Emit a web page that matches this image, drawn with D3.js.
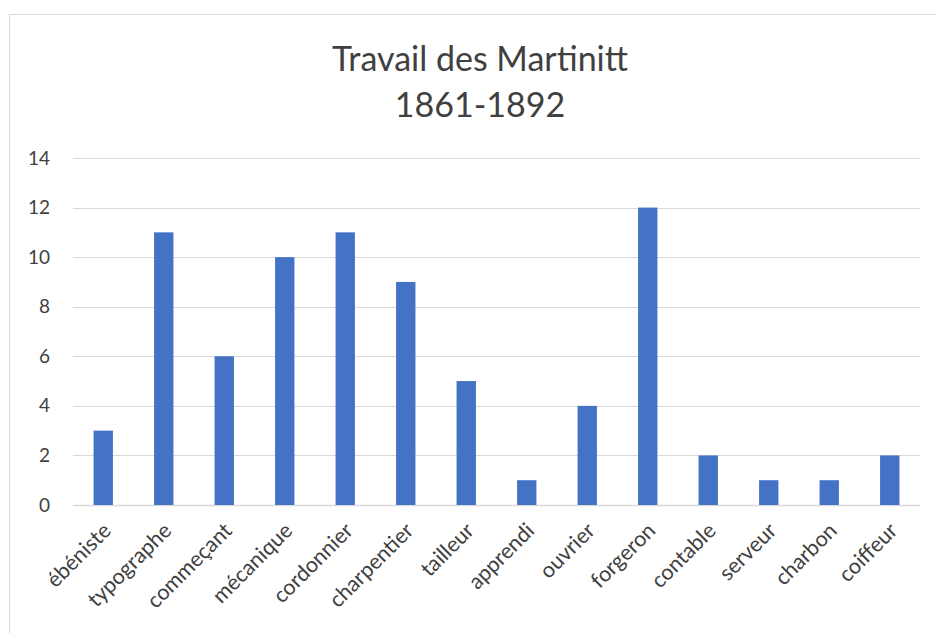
<!DOCTYPE html>
<html>
<head>
<meta charset="utf-8">
<script src="https://cdn.jsdelivr.net/npm/d3@7"></script>
<style>
body { margin: 0; background: #fff; }
text { font-family: Lato, "Open Sans", sans-serif; fill: #404040; }
</style>
</head>
<body>
<script>
//chart data
var jobs = ["ébéniste", "typographe", "commeçant", "mécanique", "cordonnier", "charpentier",
    "tailleur", "apprendi", "ouvrier", "forgeron", "contable", "serveur", "charbon", "coiffeur"];
var counts = [3, 11, 6, 10, 11, 9, 5, 1, 4, 12, 2, 1, 1, 2];
var yTicks = [0, 2, 4, 6, 8, 10, 12, 14];

var w = 936, h = 633;

var svg = d3.select("body")
    .append("svg")
    .attr("width", w)
    .attr("height", h);

//chart frame
svg.append("rect")
    .attr("x", 9.5)
    .attr("y", 14.5)
    .attr("width", 960)
    .attr("height", 700)
    .style("fill", "#fff")
    .style("stroke", "#d9d9d9");

var x = d3.scaleBand()
    .domain(jobs)
    .range([73, 920])
    .paddingInner(0.68)
    .paddingOuter(0.34);

var y = d3.scaleLinear()
    .domain([0, 14])
    .range([505, 158]);

//gridlines
svg.selectAll(".grid")
    .data(yTicks)
    .enter()
    .append("line")
    .attr("class", "grid")
    .attr("x1", 73)
    .attr("x2", 920)
    .attr("y1", function(d){ return Math.round(y(d)) + 0.5; })
    .attr("y2", function(d){ return Math.round(y(d)) + 0.5; })
    .style("stroke", "#d9d9d9")
    .style("stroke-width", function(d){ return d == 0 ? 1.5 : 1; });

//y axis labels
var yAxis = d3.axisLeft(y)
    .tickValues(yTicks)
    .tickSize(0)
    .tickPadding(0);

var axisY = svg.append("g")
    .attr("transform", "translate(50,0)")
    .call(yAxis);
axisY.select(".domain").remove();
axisY.selectAll("text")
    .style("font-size", "19px")
    .style("fill", "#404040");

//bars
svg.selectAll(".bar")
    .data(counts)
    .enter()
    .append("rect")
    .attr("class", "bar")
    .attr("x", function(d, i){ return x(jobs[i]); })
    .attr("width", x.bandwidth())
    .attr("y", function(d){ return y(d); })
    .attr("height", function(d){ return y(0) - y(d); })
    .style("fill", "#4472c4");

//category labels, rotated
var xAxis = d3.axisBottom(x).tickSize(0).tickPadding(0);
var axisX = svg.append("g")
    .attr("transform", "translate(0,505)")
    .call(xAxis);
axisX.select(".domain").remove();
axisX.selectAll("text")
    .style("font-size", "21.5px")
    .style("fill", "#404040")
    .attr("text-anchor", "end")
    .attr("dy", 0)
    .attr("transform", "translate(9,27) rotate(-45)");

//title
var title = svg.append("text")
    .attr("text-anchor", "middle")
    .attr("x", 480)
    .attr("y", 71)
    .style("font-size", "34px");
title.append("tspan").attr("x", 480).text("Travail des Martinitt");
title.append("tspan").attr("x", 480).attr("dy", 46).text("1861-1892");
</script>
</body>
</html>
